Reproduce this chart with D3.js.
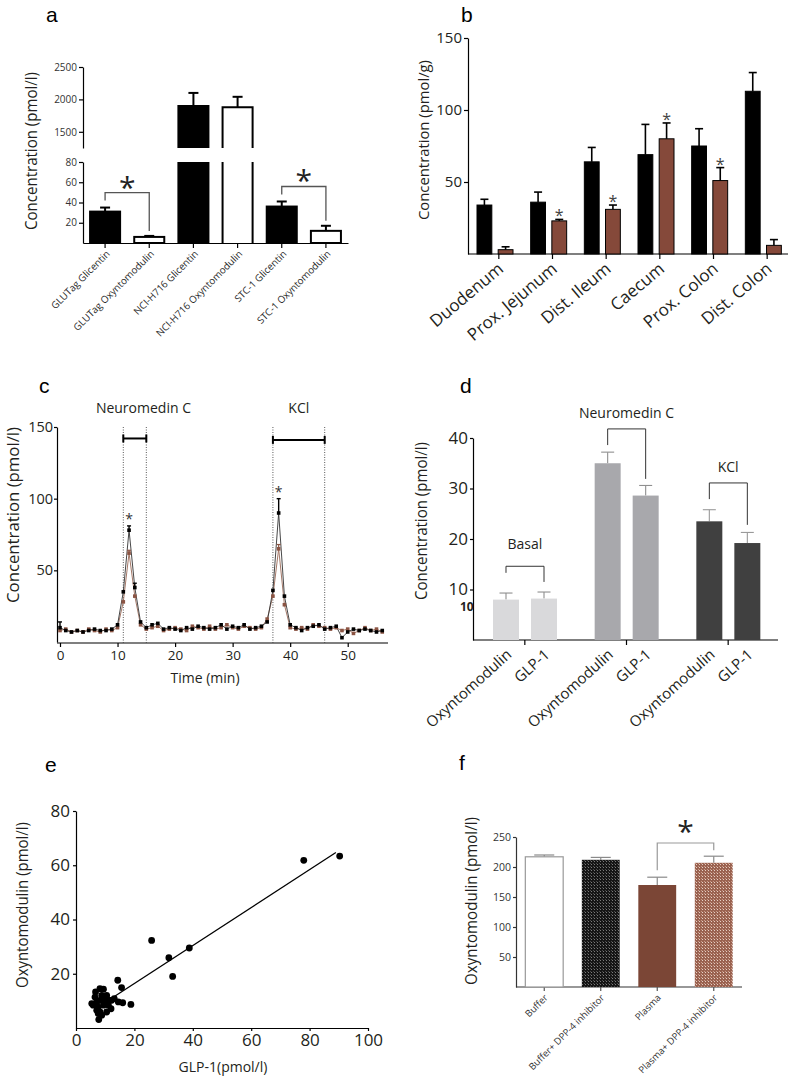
<!DOCTYPE html>
<html><head><meta charset="utf-8">
<script src="https://cdn.jsdelivr.net/npm/d3@7"></script>
<style>body{margin:0;background:#fff}svg{display:block}</style>
</head><body><svg id="c" width="790" height="1084"></svg>
<script>
// ---------- DATA ----------
// panel a
const aCategories = ["GLUTag Glicentin","GLUTag Oxyntomodulin","NCI-H716 Glicentin","NCI-H716 Oxyntomodulin","STC-1 Glicentin","STC-1 Oxyntomodulin"];
const aValues = [31, 6, 1900, 1880, 36, 12];
const aErrors = [4, 1, 200, 160, 5, 5];
const aTicksUpper = [1500, 2000, 2500];
const aTicksLower = [20, 40, 60, 80];
const aPairs = [[0,1],[4,5]];
// panel b
const bCategories = ["Duodenum","Prox. Jejunum","Dist. Ileum","Caecum","Prox. Colon","Dist. Colon"];
const bBlack = [34, 36, 64, 69, 75, 113];
const bBlackErr = [4, 7, 10, 21, 12, 13];
const bBrown = [3, 23, 31, 80, 51, 6];
const bBrownErr = [2, 1, 3, 11, 9, 4];
const bStars = [false, true, true, true, true, false];
const bTicks = [50, 100, 150];
// panel c
const cTime = [0,1,2,3,4,5,6,7,8,9,10,11,12,13,14,15,16,17,18,19,20,21,22,23,24,25,26,27,28,29,30,31,32,33,34,35,36,37,38,39,40,41,42,43,44,45,46,47,48,49,50,51,52,53,54,55,56];
const cBlack = [10,8,7,8,7,8,9,8,8,9, 12,35,78,38,14,10,12,13,9,10, 9,8,10,9,11,10,9,10,12,9, 11,10,12,9,10,11,14,36,90,32, 12,10,8,10,11,12,9,10,11,3, 7,9,8,9,8,7,8];
const cBrown = [8,9,7,8,7,9,8,7,9,8, 10,28,62,32,12,9,10,11,8,9, 10,9,8,11,10,9,11,9,10,12, 10,9,11,10,9,10,16,32,65,26, 10,9,10,9,12,11,10,9,10,8, 9,6,8,10,8,9,7];
const cBlackErrT = [0, 12, 13, 38];
const cBlackErr = [4, 3, 3, 10];
const cBrownErrT = [12, 38];
const cBrownErr = [2, 3];
const cStimLabels = ["Neuromedin C", "KCl"];
const cStimStart = [11, 37];
const cStimEnd = [15, 46];
const cStimLevel = [142, 141];
const cStimLabelT = [14.5, 41.5];
const cStarT = [12, 38];
const cTicksX = [0, 10, 20, 30, 40, 50];
const cTicksY = [50, 100, 150];
// panel d
const dGroups = ["Basal","Neuromedin C","KCl"];
const dSeries = ["Oxyntomodulin","GLP-1"];
const dOxy = [8, 35, 23.5];
const dOxyErr = [1.3, 2.2, 2.3];
const dGlp = [8.2, 28.6, 19.2];
const dGlpErr = [1.3, 2.0, 2.1];
const dBracketTop = [14.6, 41.8, 31.1];
const dBracketLeft = [13.3, 38.6, 27.9];
const dBracketRight = [11.5, 31.9, 22.8];
const dTicks = [10, 20, 30, 40];
// panel e
const eGLP = [90.3,78,25.9,31.8,38.8,33.1,14.3,15.6,18.8,16,14.5,13.1,12.2,12,10.5,7.8,5.4,6.5,7.1,8.2,9.4,8.8,10.5,9.9,7.6,7.1,8.2,9.4,11.1,5.9,7.6,8.8,8.2,6.7,9.9,11.1];
const eOxy = [63.4,61.8,32.3,25.9,29.5,19.0,17.6,14.9,8.7,9.3,9.6,10.8,10.2,7.1,5.9,3.1,9.0,11.4,9.6,14.5,14.3,12,12,10.2,7.7,6.5,5.9,8.4,8.4,8.4,5.3,4.7,10.2,13.3,11.4,10.4];
const eFitX = [13, 89];
const eFitY = [11.5, 64.7];
const eTicksX = [0, 20, 40, 60, 80, 100];
const eTicksY = [20, 40, 60, 80];
// panel f
const fCategories = ["Buffer","Buffer+ DPP-4 inhibitor","Plasma","Plasma+ DPP-4 inhibitor"];
const fValues = [217, 212, 170, 207];
const fErrors = [3, 4, 13, 11];
const fBracketTop = 240;
const fTicks = [50, 100, 150, 200, 250];

// ---------- HELPERS ----------
const FONT = "'Open Sans', 'Noto Sans', sans-serif";
const TXT = "#231f20";
const svg = d3.select("#c");
svg.append("rect").attr("width", 790).attr("height", 1084).attr("fill", "#fff");

const defs = svg.append("defs");
const p1 = defs.append("pattern").attr("id","darkdots").attr("width",3).attr("height",3).attr("patternUnits","userSpaceOnUse");
p1.append("rect").attr("width",3).attr("height",3).attr("fill","#151515");
p1.append("rect").attr("width",1).attr("height",1).attr("fill","#7a7a7a");
p1.append("rect").attr("x",2).attr("y",2).attr("width",1).attr("height",1).attr("fill","#4a4a4a");
const p2 = defs.append("pattern").attr("id","browndots").attr("width",3).attr("height",3).attr("patternUnits","userSpaceOnUse");
p2.append("rect").attr("width",3).attr("height",3).attr("fill","#9a6250");
p2.append("rect").attr("width",1).attr("height",1).attr("fill","#e6cfc4");
p2.append("rect").attr("x",2).attr("y",2).attr("width",1).attr("height",1).attr("fill","#c99a88");

function styleAxis(g, size, color, lineColor) {
  g.selectAll("text").attr("font-family", FONT).attr("font-size", size).attr("fill", color || TXT);
  g.selectAll("path,line").attr("stroke", lineColor || "#000").attr("stroke-width", 1.2);
  return g;
}
function letter(t, x, y) {
  svg.append("text").attr("x", x).attr("y", y).attr("font-family", "'Liberation Sans', Arial, sans-serif")
    .attr("font-size", 21).attr("fill", "#000").text(t);
}
function ylabel(t, x, y, size, len) {
  const el = svg.append("text").attr("transform", `translate(${x},${y}) rotate(-90)`).attr("text-anchor", "middle")
    .attr("font-family", FONT).attr("font-size", size).attr("fill", TXT).text(t);
  if (len) el.attr("textLength", len).attr("lengthAdjust", "spacingAndGlyphs");
}
function slant(t, x, y, angle, size, color) {
  svg.append("text").attr("transform", `translate(${x},${y}) rotate(${angle})`).attr("text-anchor", "end")
    .attr("dy", "0.35em").attr("font-family", FONT).attr("font-size", size).attr("fill", color || TXT).text(t);
}
function hline(x1, x2, y, color, w) {
  svg.append("line").attr("x1", x1).attr("x2", x2).attr("y1", y).attr("y2", y).attr("stroke", color || "#000").attr("stroke-width", w || 1.2);
}
function vline(x, y1, y2, color, w) {
  svg.append("line").attr("x1", x).attr("x2", x).attr("y1", y1).attr("y2", y2).attr("stroke", color || "#000").attr("stroke-width", w || 1.2);
}
function errbar(x, y0, y1, cap, color, w) {
  vline(x, y0, y1, color, w); hline(x - cap / 2, x + cap / 2, y1, color, w);
}
function star(x, y, size, color) {
  svg.append("text").attr("x", x).attr("y", y).attr("text-anchor", "middle").attr("font-family", FONT)
    .attr("font-size", size).attr("fill", color || TXT).text("*");
}

// ---------- PANEL A ----------
letter("a", 46, 22);
{
  const x = d3.scaleBand().domain(aCategories).range([83, 348]).paddingInner(0.32).paddingOuter(0.16);
  const yU = d3.scaleLinear().domain([1250, 2500]).range([148, 67]);
  const yL = d3.scaleLinear().domain([0, 80]).range([243, 162]);
  styleAxis(svg.append("g").attr("transform", "translate(83,0)")
    .call(d3.axisLeft(yU).tickValues(aTicksUpper).tickFormat(d3.format("d")).tickSize(4).tickSizeOuter(0).tickPadding(2)), 10, "#333");
  styleAxis(svg.append("g").attr("transform", "translate(83,0)")
    .call(d3.axisLeft(yL).tickValues(aTicksLower).tickSize(4).tickSizeOuter(0).tickPadding(2)), 10, "#333");
  styleAxis(svg.append("g").attr("transform", "translate(0,243)")
    .call(d3.axisBottom(x).tickSize(5).tickSizeOuter(0).tickFormat("")), 10);
  const bw = x.bandwidth();
  aCategories.forEach((c, i) => {
    const v = aValues[i], e = aErrors[i], x0 = x(c), cx = x0 + bw / 2;
    const black = i % 2 === 0;
    const fill = black ? "#000" : "#fff";
    if (v > 80) {
      svg.append("rect").attr("x", x0).attr("y", yU(v)).attr("width", bw).attr("height", yU.range()[0] - yU(v)).attr("fill", fill);
      svg.append("path").attr("d", `M${x0},${yU.range()[0]}V${yU(v)}H${x0 + bw}V${yU.range()[0]}`).attr("fill", "none").attr("stroke", "#000").attr("stroke-width", 2);
      svg.append("rect").attr("x", x0).attr("y", yL(80)).attr("width", bw).attr("height", yL(0) - yL(80)).attr("fill", fill);
      svg.append("path").attr("d", `M${x0},${yL(80)}V${yL(0)}M${x0 + bw},${yL(80)}V${yL(0)}`).attr("fill", "none").attr("stroke", "#000").attr("stroke-width", 2);
      errbar(cx, yU(v), yU(v + e), 10, "#000", 2);
    } else {
      svg.append("rect").attr("x", x0).attr("y", yL(v)).attr("width", bw).attr("height", yL(0) - yL(v))
        .attr("fill", fill).attr("stroke", "#000").attr("stroke-width", 2);
      errbar(cx, yL(v), yL(v + e), 10, "#000", 2);
    }
    slant(c, cx + 3, 252, -45, 9.8, "#2a2a2a");
  });
  aPairs.forEach(([a, b]) => {
    const xa = x(aCategories[a]) + bw / 2, xb = x(aCategories[b]) + bw / 2;
    const la = yL(aValues[a] + aErrors[a]) - 7, lb = yL(aValues[b] + aErrors[b]) - 5;
    const top = Math.min(la, lb) - 8;
    svg.append("path").attr("d", `M${xa},${la}V${top}H${xb}V${lb}`).attr("fill", "none").attr("stroke", "#555").attr("stroke-width", 1.3);
    star((xa + xb) / 2, top + 5, 30, "#222");
  });
  ylabel("Concentration (pmol/l)", 37, 151, 16, 158);
}

// ---------- PANEL B ----------
letter("b", 461, 22);
{
  const x = d3.scaleBand().domain(bCategories).range([472, 794]);
  const sub = d3.scaleBand().domain(["black", "brown"]).range([5, 41]).paddingInner(0.3);
  const y = d3.scaleLinear().domain([0, 150]).range([254, 38]);
  styleAxis(svg.append("g").attr("transform", "translate(468,0)")
    .call(d3.axisLeft(y).tickValues(bTicks).tickSize(4).tickSizeOuter(0).tickPadding(2)), 15);
  hline(468, 788, 254, "#000", 1.2);
  const gx = styleAxis(svg.append("g").attr("transform", "translate(0,254)")
    .call(d3.axisBottom(x).tickSize(5).tickSizeOuter(0).tickFormat("")), 10);
  gx.select(".domain").remove();
  const bw = sub.bandwidth();
  bCategories.forEach((c, i) => {
    const x0 = x(c);
    const xb = x0 + sub("black"), xr = x0 + sub("brown");
    svg.append("rect").attr("x", xb).attr("y", y(bBlack[i])).attr("width", bw).attr("height", y(0) - y(bBlack[i]))
      .attr("fill", "#000").attr("stroke", "#000").attr("stroke-width", 1);
    errbar(xb + bw / 2, y(bBlack[i]), y(bBlack[i] + bBlackErr[i]), 8, "#000", 1.6);
    svg.append("rect").attr("x", xr).attr("y", y(bBrown[i])).attr("width", bw).attr("height", y(0) - y(bBrown[i]))
      .attr("fill", "#85493a").attr("stroke", "#000").attr("stroke-width", 1);
    errbar(xr + bw / 2, y(bBrown[i]), y(bBrown[i] + bBrownErr[i]), 8, "#000", 1.6);
    if (bStars[i]) star(xr + bw / 2, y(bBrown[i] + bBrownErr[i]) + 2, 16, "#444");
    slant(c, x0 + x.bandwidth() / 2 + 2, 266, -40, 17);
  });
  ylabel("Concentration (pmol/g)", 429, 140, 15, 160);
}

// ---------- PANEL C ----------
letter("c", 39, 393);
{
  const x = d3.scaleLinear().domain([0, 57]).range([60, 388]);
  const y = d3.scaleLinear().domain([0, 150]).range([642, 427]);
  styleAxis(svg.append("g").attr("transform", "translate(57,0)")
    .call(d3.axisLeft(y).tickValues(cTicksY).tickSize(3).tickSizeOuter(0).tickPadding(1)), 14.5);
  hline(57, 388, 643, "#000", 1.2);
  const gx = styleAxis(svg.append("g").attr("transform", "translate(0,643)")
    .call(d3.axisBottom(x).tickValues(cTicksX).tickSize(4).tickSizeOuter(0).tickPadding(3)), 13.5);
  gx.select(".domain").remove();
  svg.append("text").attr("x", 205).attr("y", 683).attr("text-anchor", "middle").attr("font-family", FONT)
    .attr("font-size", 14).attr("fill", TXT).text("Time (min)");
  cStimLabels.forEach((l, i) => {
    [cStimStart[i], cStimEnd[i]].forEach(t => {
      svg.append("line").attr("x1", x(t)).attr("x2", x(t)).attr("y1", 427).attr("y2", 643)
        .attr("stroke", "#444").attr("stroke-width", 0.9).attr("stroke-dasharray", "1,1.5");
    });
    const yy = y(cStimLevel[i]);
    hline(x(cStimStart[i]), x(cStimEnd[i]), yy, "#000", 2);
    vline(x(cStimStart[i]), yy - 4, yy + 4, "#000", 2);
    vline(x(cStimEnd[i]), yy - 4, yy + 4, "#000", 2);
    svg.append("text").attr("x", x(cStimLabelT[i])).attr("y", 413).attr("text-anchor", "middle")
      .attr("font-family", FONT).attr("font-size", 14).attr("fill", TXT).text(l);
  });
  const line = d3.line().x((d, i) => x(cTime[i])).y(d => y(d));
  svg.append("path").datum(cBrown).attr("d", line).attr("fill", "none").attr("stroke", "#9a6a58").attr("stroke-width", 0.9);
  svg.append("path").datum(cBlack).attr("d", line).attr("fill", "none").attr("stroke", "#333").attr("stroke-width", 0.9);
  cBrownErrT.forEach((t, k) => { const v = cBrown[cTime.indexOf(t)]; errbar(x(t), y(v), y(v + cBrownErr[k]), 4, "#8b5443", 1.2); });
  cBlackErrT.forEach((t, k) => { const v = cBlack[cTime.indexOf(t)]; errbar(x(t), y(v), y(v + cBlackErr[k]), 4, "#000", 1.4); });
  svg.selectAll(null).data(cBrown).enter().append("rect")
    .attr("x", (d, i) => x(cTime[i]) - 1.8).attr("y", d => y(d) - 1.8).attr("width", 3.6).attr("height", 3.6).attr("fill", "#8b5443");
  svg.selectAll(null).data(cBlack).enter().append("rect")
    .attr("x", (d, i) => x(cTime[i]) - 1.8).attr("y", d => y(d) - 1.8).attr("width", 3.6).attr("height", 3.6).attr("fill", "#000");
  cStarT.forEach((t, k) => {
    const idx = cTime.indexOf(t);
    const errIdx = cBlackErrT.indexOf(t);
    star(x(t), y(cBlack[idx] + cBlackErr[errIdx]) - 2, 14, "#333");
  });
  ylabel("Concentration (pmol/l)", 19, 515, 16, 176);
}

// ---------- PANEL D ----------
letter("d", 460, 393);
{
  const x = d3.scaleBand().domain(dGroups).range([474, 779]);
  const sub = d3.scaleBand().domain(dSeries).range([19, 83]).paddingInner(0.316);
  const y = d3.scaleLinear().domain([0, 40]).range([640, 438]);
  const colors = ["#d9d9db", "#a8a8ac", "#404040"];
  const errColors = ["#8f8f8f", "#8f8f8f", "#9a9a9a"];
  styleAxis(svg.append("g").attr("transform", "translate(473,0)")
    .call(d3.axisLeft(y).tickValues(dTicks).tickSize(3).tickSizeOuter(0).tickPadding(2)), 17);
  hline(473, 778, 640, "#000", 1.2);
  const gx = styleAxis(svg.append("g").attr("transform", "translate(0,640)")
    .call(d3.axisBottom(x).tickSize(5).tickSizeOuter(0).tickFormat("")), 10);
  gx.select(".domain").remove();
  svg.append("text").attr("x", 460).attr("y", 611).attr("font-family", FONT).attr("font-weight", "bold")
    .attr("font-size", 12).attr("fill", TXT).text("10");
  const bw = sub.bandwidth();
  dGroups.forEach((g, i) => {
    const x0 = x(g);
    const vals = [dOxy[i], dGlp[i]], errs = [dOxyErr[i], dGlpErr[i]];
    const centers = [];
    dSeries.forEach((s, j) => {
      const bx = x0 + sub(s);
      centers.push(bx + bw / 2);
      errbar(bx + bw / 2, y(vals[j]), y(vals[j] + errs[j]), 13, errColors[i], 1.1);
      svg.append("rect").attr("x", bx).attr("y", y(vals[j])).attr("width", bw).attr("height", y(0) - y(vals[j]))
        .attr("fill", colors[i]);
      slant(s, bx + bw / 2 + 3, 652, -42, 15);
    });
    const top = y(dBracketTop[i]);
    svg.append("path").attr("d", `M${centers[0]},${y(dBracketLeft[i])}V${top}H${centers[1]}V${y(dBracketRight[i])}`)
      .attr("fill", "none").attr("stroke", "#333").attr("stroke-width", 1);
    svg.append("text").attr("x", x0 + x.bandwidth() / 2).attr("y", top - (i === 0 ? 17 : 11)).attr("text-anchor", "middle")
      .attr("font-family", FONT).attr("font-size", 14).attr("fill", TXT).text(g);
  });
  ylabel("Concentration (pmol/l)", 427, 521, 15.5, 158);
}

// ---------- PANEL E ----------
letter("e", 45, 772);
{
  const x = d3.scaleLinear().domain([0, 100]).range([76, 368]);
  const y = d3.scaleLinear().domain([0, 80]).range([1028, 811]);
  styleAxis(svg.append("g").attr("transform", "translate(76,0)")
    .call(d3.axisLeft(y).tickValues(eTicksY).tickSize(3).tickSizeOuter(0).tickPadding(3)), 17);
  styleAxis(svg.append("g").attr("transform", "translate(0,1028)")
    .call(d3.axisBottom(x).tickValues(eTicksX).tickSize(3).tickSizeOuter(0).tickPadding(3)), 17);
  svg.append("line").attr("x1", x(eFitX[0])).attr("y1", y(eFitY[0])).attr("x2", x(eFitX[1])).attr("y2", y(eFitY[1]))
    .attr("stroke", "#000").attr("stroke-width", 1.3);
  svg.selectAll(null).data(eGLP).enter().append("circle")
    .attr("cx", d => x(d)).attr("cy", (d, i) => y(eOxy[i])).attr("r", 3.4).attr("fill", "#000");
  svg.append("text").attr("x", 223).attr("y", 1072).attr("text-anchor", "middle").attr("font-family", FONT)
    .attr("font-size", 14).attr("fill", TXT).text("GLP-1(pmol/l)");
  ylabel("Oxyntomodulin (pmol/l)", 28, 905, 15.5, 166);
}

// ---------- PANEL F ----------
letter("f", 459, 770);
{
  const x = d3.scaleBand().domain(fCategories).range([516, 742]).paddingInner(0.33).paddingOuter(0.165);
  const y = d3.scaleLinear().domain([0, 250]).range([987, 837]);
  styleAxis(svg.append("g").attr("transform", "translate(516,0)")
    .call(d3.axisLeft(y).tickValues(fTicks).tickSize(3).tickSizeOuter(0).tickPadding(2)), 10.5, "#333", "#333");
  hline(516, 742, 987, "#333", 1.2);
  const gx = styleAxis(svg.append("g").attr("transform", "translate(0,987)")
    .call(d3.axisBottom(x).tickSize(4).tickSizeOuter(0).tickFormat("")), 10, "#333", "#555");
  gx.select(".domain").remove();
  const fills = ["#fff", "url(#darkdots)", "#7b4636", "url(#browndots)"];
  const bw = x.bandwidth();
  fCategories.forEach((c, i) => {
    const x0 = x(c), cx = x0 + bw / 2;
    errbar(cx, y(fValues[i]), y(fValues[i] + fErrors[i]), 20, "#8a8a8a", 1.2);
    svg.append("rect").attr("x", x0).attr("y", y(fValues[i])).attr("width", bw).attr("height", y(0) - y(fValues[i]))
      .attr("fill", fills[i]).attr("stroke", i === 0 ? "#999" : "none").attr("stroke-width", 1.2);
    slant(c, cx + 2, 996, -45, 9.5, "#333");
  });
  const a = 2, b = 3;
  const xa = x(fCategories[a]) + bw / 2, xb = x(fCategories[b]) + bw / 2;
  const la = y(fValues[a] + fErrors[a]) - 7, lb = y(fValues[b] + fErrors[b]) - 6;
  const top = y(fBracketTop);
  svg.append("path").attr("d", `M${xa},${la}V${top}H${xb}V${lb}`).attr("fill", "none").attr("stroke", "#999").attr("stroke-width", 1.2);
  star((xa + xb) / 2, top - 1, 30, "#222");
  ylabel("Oxyntomodulin (pmol/l)", 477, 901, 16, 168);
}
</script></body></html>
